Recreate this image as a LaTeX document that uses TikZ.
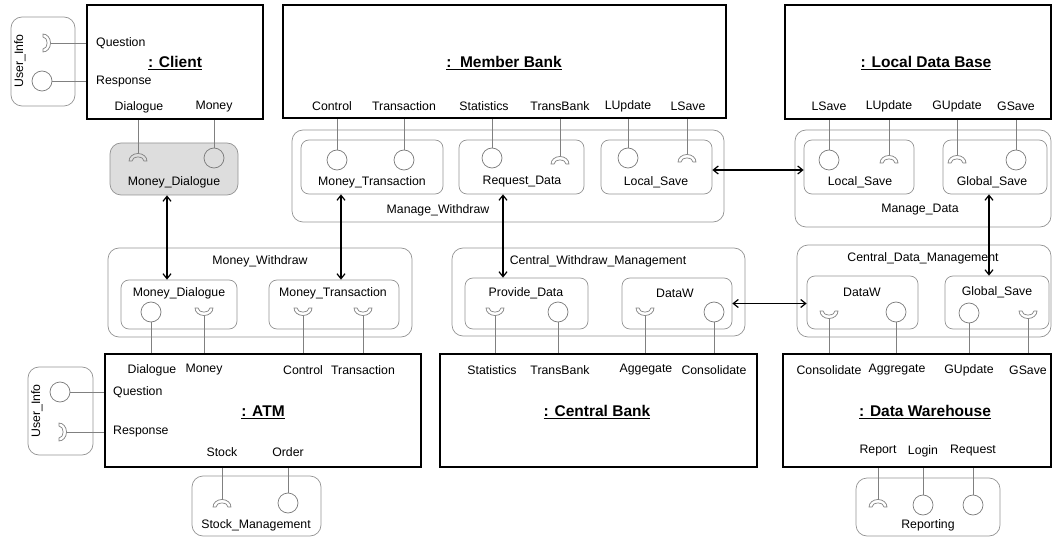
\documentclass[tikz,border=0pt]{standalone}
\usepackage{fontspec}
\setmainfont{Liberation Sans}
\usetikzlibrary{arrows.meta,positioning}
\tikzstyle{comp}=[
	rectangle,
	draw=black,
	line width=1.6pt]
\tikzstyle{grp}=[
	rectangle,
	rounded corners=11pt,
	draw=gray!85,
	line width=0.7pt]
\tikzstyle{part}=[
	grp,
	rounded corners=8pt]
\tikzstyle{port}=[
	circle,
	draw=gray!95!black,
	line width=0.7pt,
	minimum size=20,
	inner sep=0pt]
\tikzstyle{wire}=[
	draw=gray,
	line width=0.7pt]
\tikzstyle{flow}=[
	<->,
	line width=1.2pt]
\tikzstyle{lbl}=[
	inner sep=0pt,
	font=\fontsize{12.3}{14}\selectfont]
\tikzstyle{ttl}=[
	inner sep=0pt,
	font=\fontsize{15.5}{18}\selectfont\bfseries]
\tikzset{
	sock/.pic={
		\draw[wire] (-9pt,0pt) arc[start angle=180,end angle=0,x radius=9pt,y radius=7.5pt] -- (6pt,0pt)
			arc[start angle=0,end angle=180,x radius=6pt,y radius=4pt] -- cycle;
		\coordinate (-tip) at (0pt,7.5pt);
	}
}

\begin{document}
\begin{tikzpicture}[x=1pt,y=1pt,>={Straight Barb[length=5pt,width=8pt]}]
					\useasboundingbox (0,0) rectangle (1057,-537);
					% components
					\begin{scope}
						\node[comp,minimum width=176,minimum height=114] (cli) at (175,-62) {};
						\node[comp,minimum width=443,minimum height=113] (mb) at (504.5,-61.5) {};
						\node[comp,minimum width=266,minimum height=114] (ldb) at (918,-62) {};
						\node[comp,minimum width=316,minimum height=113] (atm) at (263,-410.5) {};
						\node[comp,minimum width=317,minimum height=113] (cb) at (598.5,-410.5) {};
						\node[comp,minimum width=268,minimum height=113] (dw) at (917,-410.5) {};
						\node[ttl] (clit) at (175,-63) {\underline{: Client}};
						\node[ttl] (mbt) at (504,-63) {\underline{:\ \ Member Bank}};
						\node[ttl] (ldbt) at (926,-63) {\underline{: Local Data Base}};
						\node[ttl] (atmt) at (263,-412) {\underline{: ATM}};
						\node[ttl] (cbt) at (597,-412) {\underline{: Central Bank}};
						\node[ttl] (dwt) at (925,-412) {\underline{: Data Warehouse}};
					\end{scope}
					% connectors and parts
					\begin{scope}
						\node[grp,minimum width=64,minimum height=89] (uitop) at (43,-61.5) {};
						\node[grp,minimum width=65,minimum height=88] (uibot) at (60.5,-411) {};
						\node[grp,fill=gray!27,minimum width=128,minimum height=52] (mdlg) at (174,-169) {};
						\node[grp,minimum width=432,minimum height=92] (mgw) at (508,-176) {};
						\node[part,minimum width=142,minimum height=54] (mbtrs) at (372,-167) {};
						\node[part,minimum width=125,minimum height=54] (rqd) at (521.5,-167) {};
						\node[part,minimum width=111,minimum height=54] (mbls) at (656.5,-167) {};
						\node[grp,minimum width=256,minimum height=97] (mgd) at (923,-178.5) {};
						\node[part,minimum width=110,minimum height=54] (ldbls) at (859,-167) {};
						\node[part,minimum width=104,minimum height=54] (ldbgs) at (995,-167) {};
						\node[grp,minimum width=304,minimum height=89] (mw) at (260,-292.5) {};
						\node[part,minimum width=116,minimum height=49] (mwdlg) at (179,-304.5) {};
						\node[part,minimum width=130,minimum height=49] (mwtrs) at (334,-304.5) {};
						\node[grp,minimum width=293,minimum height=88] (cwm) at (598.5,-292) {};
						\node[part,minimum width=123,minimum height=51] (pvd) at (526.5,-303.5) {};
						\node[part,minimum width=110,minimum height=51] (cwmdw) at (677,-303.5) {};
						\node[grp,minimum width=254,minimum height=92] (cdm) at (924,-291) {};
						\node[part,minimum width=111,minimum height=53] (cdmdw) at (862.5,-302.5) {};
						\node[part,minimum width=104,minimum height=53] (cdmgs) at (997,-302.5) {};
						\node[grp,minimum width=129,minimum height=60] (stk) at (256.5,-506) {};
						\node[grp,minimum width=144,minimum height=58] (rep) at (928,-507) {};
					\end{scope}
					% part names
					\node[lbl,rotate=90] (uitopt) at (20,-61) {User\_Info};
					\node[lbl,rotate=90] (uibott) at (37,-411) {User\_Info};
					\node[lbl] (mdlgt) at (174,-182) {Money\_Dialogue};
					\node[lbl] (mgwt) at (438,-210) {Manage\_Withdraw};
					\node[lbl] (mbtrst) at (372,-182) {Money\_Transaction};
					\node[lbl] (rqdt) at (522,-182) {Request\_Data};
					\node[lbl] (mblst) at (656,-182) {Local\_Save};
					\node[lbl] (mgdt) at (920,-210) {Manage\_Data};
					\node[lbl] (ldblst) at (860,-182) {Local\_Save};
					\node[lbl] (ldbgst) at (992,-182) {Global\_Save};
					\node[lbl] (mwt) at (260,-261) {Money\_Withdraw};
					\node[lbl] (mwdlgt) at (179,-293) {Money\_Dialogue};
					\node[lbl] (mwtrst) at (333,-293) {Money\_Transaction};
					\node[lbl] (cwmt) at (598,-261) {Central\_Withdraw\_Management};
					\node[lbl] (pvdt) at (526,-293) {Provide\_Data};
					\node[lbl] (cwmdwt) at (675,-293) {DataW};
					\node[lbl] (cdmt) at (923,-258) {Central\_Data\_Management};
					\node[lbl] (cdmdwt) at (862,-292) {DataW};
					\node[lbl] (cdmgst) at (997,-292) {Global\_Save};
					\node[lbl] (stkt) at (256,-525) {Stock\_Management};
					\node[lbl] (rept) at (928,-525) {Reporting};
					% port names
					\node[lbl,anchor=west] (cliq) at (96,-43) {Question};
					\node[lbl,anchor=west] (clir) at (96,-82) {Response};
					\node[lbl] (clid) at (139,-107) {Dialogue};
					\node[lbl] (clim) at (214,-107) {Money};
					\node[lbl] (mbc) at (332,-106) {Control};
					\node[lbl] (mbtr) at (404,-106) {Transaction};
					\node[lbl] (mbst) at (484,-106) {Statistics};
					\node[lbl] (mbtb) at (560,-106) {TransBank};
					\node[lbl] (mblu) at (628,-106) {LUpdate};
					\node[lbl] (mbls2) at (688,-106) {LSave};
					\node[lbl] (ldbls2) at (829,-106) {LSave};
					\node[lbl] (ldblu) at (889,-106) {LUpdate};
					\node[lbl] (ldbgu) at (957,-106) {GUpdate};
					\node[lbl] (ldbgs2) at (1016,-106) {GSave};
					\node[lbl] (atmd) at (152,-370) {Dialogue};
					\node[lbl] (atmm) at (204,-370) {Money};
					\node[lbl] (atmc) at (303,-370) {Control};
					\node[lbl] (atmtr) at (363,-370) {Transaction};
					\node[lbl,anchor=west] (atmq) at (113,-392) {Question};
					\node[lbl,anchor=west] (atmr) at (113,-432) {Response};
					\node[lbl] (atms) at (222,-452) {Stock};
					\node[lbl] (atmo) at (288,-452) {Order};
					\node[lbl] (cbst) at (492,-370) {Statistics};
					\node[lbl] (cbtb) at (560,-370) {TransBank};
					\node[lbl] (cbag) at (646,-370) {Aggegate};
					\node[lbl] (cbco) at (714,-370) {Consolidate};
					\node[lbl] (dwco) at (829,-370) {Consolidate};
					\node[lbl] (dwag) at (897,-370) {Aggregate};
					\node[lbl] (dwgu) at (969,-370) {GUpdate};
					\node[lbl] (dwgs) at (1028,-370) {GSave};
					\node[lbl] (dwrp) at (878,-451) {Report};
					\node[lbl] (dwlg) at (923,-451) {Login};
					\node[lbl] (dwrq) at (973,-451) {Request};
					% ports
					\pic[rotate=-90] (uitops) at (43,-43) {sock};
					\node[port] (uitopc) at (42,-81) {};
					\node[port] (uibotc) at (60,-392) {};
					\pic[rotate=-90] (uibots) at (59,-432) {sock};
					\pic (mdlgs) at (138,-161) {sock};
					\node[port] (mdlgc) at (214,-158) {};
					\node[port] (mbtrsc1) at (337,-160) {};
					\node[port] (mbtrsc2) at (404,-160) {};
					\node[port] (rqdc) at (492,-158) {};
					\pic (rqds) at (560,-164) {sock};
					\node[port] (mblsc) at (628,-158) {};
					\pic (mblss) at (687,-162) {sock};
					\node[port] (ldblsc) at (829,-160) {};
					\pic (ldblss) at (889,-163) {sock};
					\pic (ldbgss) at (957,-163) {sock};
					\node[port] (ldbgsc) at (1016,-160) {};
					\node[port] (mwdlgc) at (151,-312) {};
					\pic[rotate=180] (mwdlgs) at (204,-308) {sock};
					\pic[rotate=180] (mwtrss1) at (303,-308) {sock};
					\pic[rotate=180] (mwtrss2) at (363,-308) {sock};
					\pic[rotate=180] (pvds) at (495,-308) {sock};
					\node[port] (pvdc) at (558,-312) {};
					\pic[rotate=180] (cwmdws) at (645,-308) {sock};
					\node[port] (cwmdwc) at (714,-312) {};
					\pic[rotate=180] (cdmdws) at (829,-311) {sock};
					\node[port] (cdmdwc) at (896,-312) {};
					\node[port] (cdmgsc) at (969,-313) {};
					\pic[rotate=180] (cdmgss) at (1028,-311) {sock};
					\pic (stks) at (222,-507) {sock};
					\node[port] (stkc) at (288,-503) {};
					\pic (reps) at (878,-507) {sock};
					\node[port] (repc1) at (923,-505) {};
					\node[port] (repc2) at (973,-505) {};
					% port wires
					\draw[wire] (uitops-tip) -- (uitops-tip -| cli.west);
					\draw[wire] (uitopc) -- (uitopc -| cli.west);
					\draw[wire] (uibotc) -- (uibotc -| atm.west);
					\draw[wire] (uibots-tip) -- (uibots-tip -| atm.west);
					\draw[wire] (mdlgs-tip) -- (mdlgs-tip |- cli.south);
					\draw[wire] (mdlgc) -- (mdlgc |- cli.south);
					\draw[wire] (mbtrsc1) -- (mbtrsc1 |- mb.south);
					\draw[wire] (mbtrsc2) -- (mbtrsc2 |- mb.south);
					\draw[wire] (rqdc) -- (rqdc |- mb.south);
					\draw[wire] (rqds-tip) -- (rqds-tip |- mb.south);
					\draw[wire] (mblsc) -- (mblsc |- mb.south);
					\draw[wire] (mblss-tip) -- (mblss-tip |- mb.south);
					\draw[wire] (ldblsc) -- (ldblsc |- ldb.south);
					\draw[wire] (ldblss-tip) -- (ldblss-tip |- ldb.south);
					\draw[wire] (ldbgss-tip) -- (ldbgss-tip |- ldb.south);
					\draw[wire] (ldbgsc) -- (ldbgsc |- ldb.south);
					\draw[wire] (mwdlgc) -- (mwdlgc |- atm.north);
					\draw[wire] (mwdlgs-tip) -- (mwdlgs-tip |- atm.north);
					\draw[wire] (mwtrss1-tip) -- (mwtrss1-tip |- atm.north);
					\draw[wire] (mwtrss2-tip) -- (mwtrss2-tip |- atm.north);
					\draw[wire] (pvds-tip) -- (pvds-tip |- cb.north);
					\draw[wire] (pvdc) -- (pvdc |- cb.north);
					\draw[wire] (cwmdws-tip) -- (cwmdws-tip |- cb.north);
					\draw[wire] (cwmdwc) -- (cwmdwc |- cb.north);
					\draw[wire] (cdmdws-tip) -- (cdmdws-tip |- dw.north);
					\draw[wire] (cdmdwc) -- (cdmdwc |- dw.north);
					\draw[wire] (cdmgsc) -- (cdmgsc |- dw.north);
					\draw[wire] (cdmgss-tip) -- (cdmgss-tip |- dw.north);
					\draw[wire] (stks-tip) -- (stks-tip |- atm.south);
					\draw[wire] (stkc) -- (stkc |- atm.south);
					\draw[wire] (reps-tip) -- (reps-tip |- dw.south);
					\draw[wire] (repc1) -- (repc1 |- dw.south);
					\draw[wire] (repc2) -- (repc2 |- dw.south);
					% links between parts
					\draw[flow] ([xshift=-7pt]mdlg.south) -- ([xshift=-7pt]mdlg.south |- mwdlg.north);
					\draw[flow] ([xshift=7pt]mwtrs.north |- mbtrs.south) -- ([xshift=7pt]mwtrs.north);
					\draw[flow] ([xshift=-23.5pt]pvd.north |- rqd.south) -- ([xshift=-23.5pt]pvd.north);
					\draw[flow] ([yshift=-3pt]mbls.east) -- ([yshift=-3pt]mbls.east -| ldbls.west);
					\draw[flow] ([xshift=-8pt]cdmgs.north |- ldbgs.south) -- ([xshift=-8pt]cdmgs.north);
					\draw[flow] (cwmdw.east) -- (cwmdw.east -| cdmdw.west);
				\end{tikzpicture}
\end{document}
